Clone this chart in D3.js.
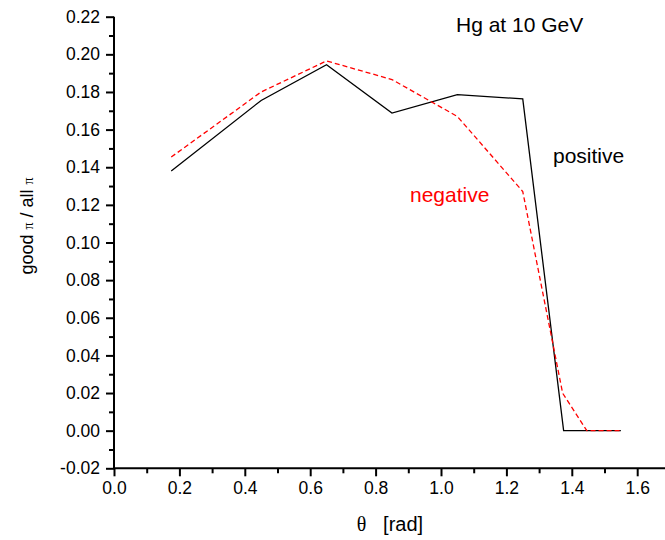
<!DOCTYPE html>
<html>
<head>
<meta charset="utf-8">
<script src="https://cdn.jsdelivr.net/npm/d3@7"></script>
<style>
  html, body { margin: 0; padding: 0; background: #fff; }
  svg { display: block; }
  text { font-family: "Liberation Sans", Arial, sans-serif; }
</style>
</head>
<body>
<svg id="chart" width="665" height="540"></svg>
<script>
// ---- data ----
const theta = [0.175, 0.45, 0.65, 0.85, 1.05, 1.25, 1.375, 1.45, 1.55];
const positive = [0.138, 0.1755, 0.1945, 0.1688, 0.1786, 0.1763, 0.0, 0.0, 0.0];
const negativeX = [0.175, 0.45, 0.65, 0.85, 1.05, 1.25, 1.372, 1.446, 1.55];
const negative = [0.1454, 0.180, 0.1965, 0.1866, 0.167, 0.1271, 0.0199, 0.0, 0.0];
const xTicks = [0.0, 0.2, 0.4, 0.6, 0.8, 1.0, 1.2, 1.4, 1.6];
const xMinor = [0.1, 0.3, 0.5, 0.7, 0.9, 1.1, 1.3, 1.5, 1.7];
const yTicks = [-0.02, 0.00, 0.02, 0.04, 0.06, 0.08, 0.10, 0.12, 0.14, 0.16, 0.18, 0.20, 0.22];
const yMinor = [-0.01, 0.01, 0.03, 0.05, 0.07, 0.09, 0.11, 0.13, 0.15, 0.17, 0.19, 0.21];

const svg = d3.select("#chart");
const x = d3.scaleLinear().domain([0, 1.7]).range([114, 114 + 327 * 1.7]);
const y = d3.scaleLinear().domain([-0.02, 0.22]).range([468.3, 16.7]);
const fmt = (f) => (d) => d3.format(f)(d).replace("\u2212", "-");

// minor ticks
const gxm = svg.append("g").attr("transform", `translate(0,${y(-0.02)})`)
  .call(d3.axisBottom(x).tickValues(xMinor).tickSize(5).tickFormat(""));
const gym = svg.append("g").attr("transform", `translate(${x(0)},0)`)
  .call(d3.axisLeft(y).tickValues(yMinor).tickSize(5).tickFormat(""));
// major axes
const gx = svg.append("g").attr("transform", `translate(0,${y(-0.02)})`)
  .call(d3.axisBottom(x).tickValues(xTicks).tickSize(8).tickPadding(5).tickFormat(fmt(".1f")));
const gy = svg.append("g").attr("transform", `translate(${x(0)},0)`)
  .call(d3.axisLeft(y).tickValues(yTicks).tickSize(8).tickPadding(6).tickFormat(fmt(".2f")));

[gx, gy, gxm, gym].forEach(g => {
  g.select(".domain").attr("stroke", "#000").attr("stroke-width", 2);
  g.selectAll(".tick line").attr("stroke", "#000").attr("stroke-width", 2);
  g.selectAll(".tick text").attr("fill", "#000")
    .style("font-family", "'Liberation Sans', Arial, sans-serif").style("font-size", "17.5px");
});
gxm.select(".domain").remove();
gym.select(".domain").remove();
gx.select(".domain").attr("d", `M${x(0)},0H665`);
gy.select(".domain").attr("d", `M0,${y(-0.02)}V${y(0.22)}`);
gx.selectAll(".tick line").attr("y1", 0).attr("y2", 8);

// lines
const line = d3.line();
svg.append("path")
  .attr("d", line(theta.map((t, i) => [x(t), y(positive[i])])))
  .attr("fill", "none").attr("stroke", "#000").attr("stroke-width", 1.3);
svg.append("path")
  .attr("d", line(negativeX.map((t, i) => [x(t), y(negative[i])])))
  .attr("fill", "none").attr("stroke", "#ff0000").attr("stroke-width", 1.3)
  .attr("stroke-dasharray", "5,3");

// texts
svg.append("text").attr("x", 456).attr("y", 31.5).attr("font-size", "21px").attr("fill", "#000")
  .text("Hg at 10 GeV");
svg.append("text").attr("x", 553).attr("y", 163).attr("font-size", "21px").attr("fill", "#000")
  .text("positive");
svg.append("text").attr("x", 410).attr("y", 202).attr("font-size", "21px").attr("fill", "#ff0000")
  .text("negative");

// x label
const xl = svg.append("text").attr("x", 390).attr("y", 531).attr("text-anchor", "middle")
  .attr("font-size", "20px").attr("fill", "#000");
xl.append("tspan").style("font-family", "'Liberation Serif', 'Times New Roman', serif").text("\u03B8");
xl.append("tspan").text("\u00A0\u00A0\u00A0[rad]");

// y label
const yl = svg.append("text").attr("transform", "translate(33,226) rotate(-90)")
  .attr("text-anchor", "middle").attr("font-size", "18px").attr("fill", "#000");
yl.append("tspan").text("good ");
yl.append("tspan").style("font-family", "'Liberation Serif', 'Times New Roman', serif").attr("font-size", "14px").text("\u03C0");
yl.append("tspan").text(" / all ");
yl.append("tspan").style("font-family", "'Liberation Serif', 'Times New Roman', serif").attr("font-size", "14px").text("\u03C0");
</script>
</body>
</html>
